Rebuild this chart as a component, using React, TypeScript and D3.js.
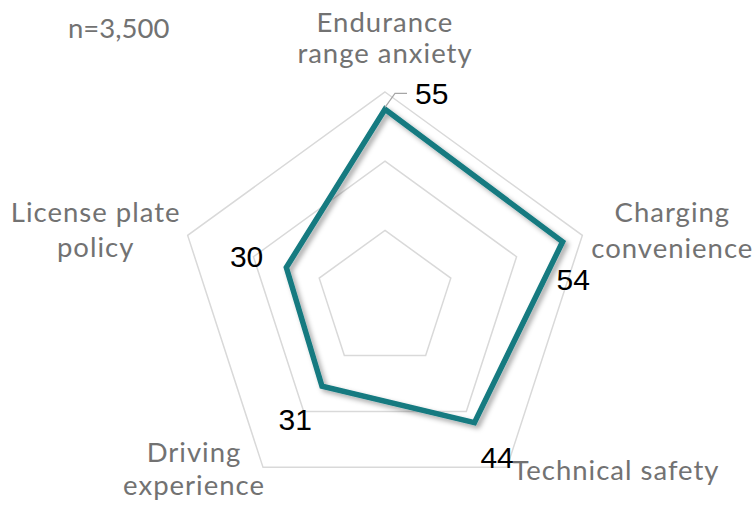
import React, { useEffect, useRef } from 'react'
import * as d3 from 'd3'

// axis names (multi-line), clockwise from top
const categories = [
    ['Endurance', 'range anxiety'],
    ['Charging', 'convenience'],
    ['Technical safety'],
    ['Driving', 'experience'],
    ['License plate', 'policy'],
]
const values = [55, 54, 44, 31, 30]
const gridTicks = [20, 40, 60]
const sampleNote = 'n=3,500'

// label placement, relative to the outer grid vertex / data point
const catOffsets = [
    { dx: 0, dy: [-60, -29] },
    { dx: 90, dy: [-13, 23] },
    { dx: 109, dy: [13] },
    { dx: -69, dy: [-5, 28] },
    { dx: -92, dy: [-13, 22] },
]
const valOffsets = [
    { dx: 30, dy: -5, anchor: 'start' },
    { dx: -6, dy: 48, anchor: 'start' },
    { dx: 6, dy: 45, anchor: 'start' },
    { dx: -10, dy: 44, anchor: 'end' },
    { dx: -23, dy: 0, anchor: 'end' },
]

export default function App() {
    const ref = useRef<SVGSVGElement>(null)

    useEffect(() => {
        const width = 755
        const height = 506
        const cx = 385
        const cy = 299.5
        const R = 207.5

        const svg = d3.select(ref.current)
        svg.selectAll('*').remove()
        svg.attr('width', width).attr('height', height)

        const defs = svg.append('defs')
        defs.append('filter')
            .attr('id', 'shadow')
            .attr('x', '-20%').attr('y', '-20%')
            .attr('width', '140%').attr('height', '140%')
            .append('feDropShadow')
            .attr('dx', 3).attr('dy', 3)
            .attr('stdDeviation', 2.5)
            .attr('flood-color', '#000')
            .attr('flood-opacity', 0.35)

        const n = categories.length
        const angle = (i: number) => (i * 2 * Math.PI) / n
        const r = d3.scaleLinear().domain([0, d3.max(gridTicks) as number]).range([0, R])

        const point = (i: number, v: number): [number, number] => [
            cx + r(v) * Math.sin(angle(i)),
            cy - r(v) * Math.cos(angle(i)),
        ]

        const g = svg.append('g').attr('transform', `translate(${cx}, ${cy})`)

        // grid rings
        const ring = d3.lineRadial<number>()
            .angle((d, i) => angle(i))
            .radius(d => r(d))
            .curve(d3.curveLinearClosed)

        gridTicks.forEach(t => {
            g.append('path')
                .attr('d', ring(categories.map(() => t)))
                .attr('fill', 'none')
                .attr('stroke', '#d9d9d9')
                .attr('stroke-width', 1.5)
        })

        // data line
        g.append('path')
            .attr('d', ring(values))
            .attr('fill', 'none')
            .attr('stroke', '#137a80')
            .attr('stroke-width', 5.5)
            .attr('stroke-linejoin', 'miter')
            .attr('filter', 'url(#shadow)')

        // leader line for the top label
        const [px, py] = point(0, values[0])
        svg.append('path')
            .attr('d', `M${px},${py - 2}L${px + 10},${py - 16}L${px + 22},${py - 16}`)
            .attr('fill', 'none')
            .attr('stroke', '#a6a6a6')
            .attr('stroke-width', 1.2)

        // category labels
        const labelFont = 'Lato, "Open Sans", sans-serif'
        categories.forEach((lines, i) => {
            const [vx, vy] = point(i, r.domain()[1])
            const off = catOffsets[i]
            lines.forEach((line, j) => {
                svg.append('text')
                    .attr('x', vx + off.dx)
                    .attr('y', vy + off.dy[j])
                    .attr('text-anchor', 'middle')
                    .attr('font-family', labelFont)
                    .attr('font-size', 27.5)
                    .attr('letter-spacing', 1)
                    .attr('fill', '#727272')
                    .text(line)
            })
        })

        // value labels
        values.forEach((v, i) => {
            const [x, y] = point(i, v)
            const off = valOffsets[i]
            svg.append('text')
                .attr('x', x + off.dx)
                .attr('y', y + off.dy)
                .attr('text-anchor', off.anchor)
                .attr('font-family', '"Liberation Sans", Arial, sans-serif')
                .attr('font-size', 30)
                .attr('fill', '#000')
                .text(v)
        })

        // sample size
        svg.append('text')
            .attr('x', 68)
            .attr('y', 38)
            .attr('font-family', labelFont)
            .attr('font-size', 27.5)
            .attr('fill', '#727272')
            .text(sampleNote)
    }, [])

    return (
        <svg ref={ref} style={{ position: 'absolute', left: 0, top: 0, display: 'block', background: '#fff' }} />
    )
}
